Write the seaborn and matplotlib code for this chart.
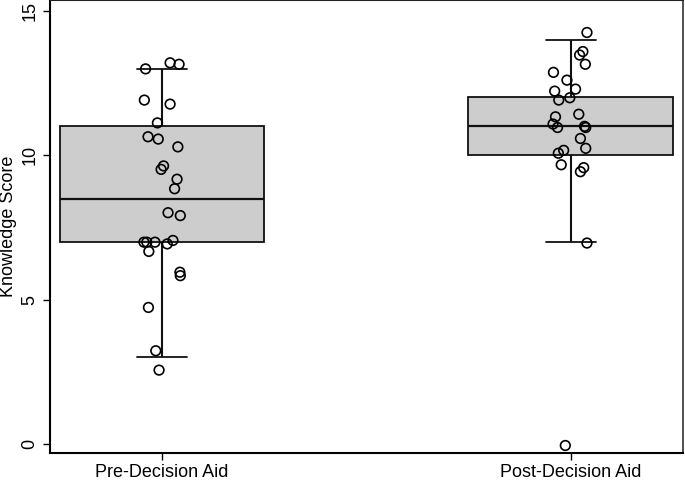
import numpy as np
import pandas as pd
import seaborn as sns
import matplotlib
matplotlib.use("Agg")
import matplotlib.pyplot as plt

# groups and knowledge scores (integer scores)
groups = ["Pre-Decision Aid", "Post-Decision Aid"]
pre_score = [13, 13, 13, 12, 12, 11, 11, 11, 10, 10, 10, 9, 9, 8, 8,
             7, 7, 7, 7, 7, 7, 6, 6, 5, 3, 3]
post_score = [14, 14, 13, 13, 13, 13, 12, 12, 12, 12, 11, 11, 11, 11, 11,
              11, 11, 10, 10, 10, 10, 10, 9, 7, 0]

# jitter as drawn in the reference (x in category units, y in score units)
pre_dx = [-0.040, 0.020, 0.042, -0.043, 0.020, -0.011, -0.034, -0.009, 0.039,
          0.004, -0.002, 0.037, 0.031, 0.015, 0.045, -0.044, -0.037, -0.017,
          -0.032, 0.013, 0.027, 0.044, 0.045, -0.033, -0.015, -0.007]
pre_dy = [-0.01, 0.20, 0.15, -0.09, -0.23, 0.12, -0.36, -0.44, 0.29,
          -0.37, -0.49, 0.17, -0.16, 0.01, -0.09, -0.01, -0.01, -0.01,
          -0.33, -0.07, 0.05, -0.05, -0.17, -0.27, 0.23, -0.44]
post_dx = [0.040, 0.030, 0.022, 0.036, -0.042, -0.009, 0.012, -0.039, -0.029,
           -0.002, -0.037, 0.020, -0.043, -0.032, 0.034, 0.037, 0.024, 0.037,
           -0.017, -0.030, -0.023, 0.032, 0.024, 0.040, -0.013]
post_dy = [0.25, -0.41, 0.47, 0.15, -0.13, -0.40, 0.29, 0.22, -0.09,
           -0.01, 0.33, 0.42, 0.08, -0.04, 0.00, -0.04, -0.42, 0.24,
           0.17, 0.07, -0.33, -0.43, 0.43, -0.04, -0.05]

df = pd.DataFrame({
    "group": [groups[0]] * len(pre_score) + [groups[1]] * len(post_score),
    "score": pre_score + post_score,
    "dx": pre_dx + post_dx,
    "dy": pre_dy + post_dy,
})
df["pos"] = df["group"].map({g: i for i, g in enumerate(groups)})

sns.set_style("ticks")
plt.rcParams["font.family"] = ["Liberation Sans", "DejaVu Sans"]
plt.rcParams["text.color"] = "black"
plt.rcParams["axes.labelcolor"] = "black"
plt.rcParams["xtick.color"] = "black"
plt.rcParams["ytick.color"] = "black"

fig = plt.figure(figsize=(6.85, 4.83), dpi=100)
ax = fig.add_axes([0.0723, 0.0621, 0.9248, 0.937])

sns.boxplot(data=df, x="group", y="score", order=groups, ax=ax,
            width=0.5, color="#cdcdcd", saturation=1, linecolor="#111111",
            linewidth=1.3, showfliers=False, whis=1.5, capwidths=0.122,
            medianprops={"linewidth": 1.6},
            whiskerprops={"linewidth": 1.5}, capprops={"linewidth": 1.3})

sns.scatterplot(x=df["pos"] + df["dx"], y=df["score"] + df["dy"], ax=ax,
                marker="o", s=48, facecolors="none", edgecolor="black",
                linewidth=1.2, zorder=5, legend=False)

ax.set_xlim(-0.275, 1.275)
ax.set_ylim(-0.31, 15.36)
ax.set_xticks([0, 1])
ax.set_xticklabels(groups, fontsize=13)
ax.set_yticks([0, 5, 10, 15])
ax.set_yticklabels(["0", "5", "10", "15"], fontsize=13, rotation=90, va="center")
ax.set_xlabel("")
ax.set_ylabel("Knowledge Score", fontsize=13, labelpad=3)
ax.tick_params(axis="both", length=5, width=1.0, color="black",
               labelcolor="black", pad=3)

for side in ["left", "bottom"]:
    ax.spines[side].set_linewidth(1.5)
    ax.spines[side].set_color("black")
ax.spines["top"].set_visible(True)
ax.spines["right"].set_visible(True)
ax.spines["top"].set_linewidth(0.8)
ax.spines["right"].set_linewidth(1.1)
ax.spines["top"].set_color("#222222")
ax.spines["right"].set_color("#222222")

fig.savefig("out.png", dpi=100)
